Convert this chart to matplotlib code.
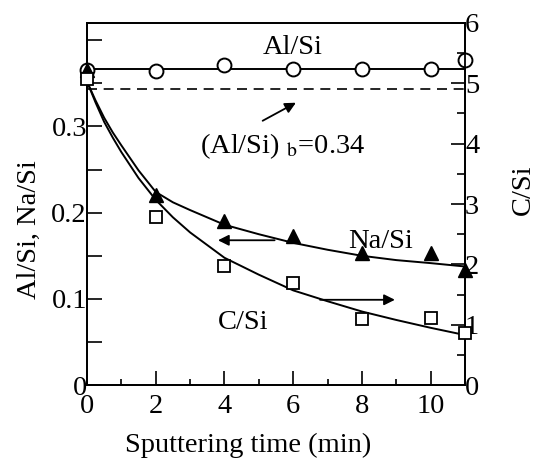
import matplotlib
matplotlib.use("Agg")
import matplotlib.pyplot as plt
from matplotlib.ticker import MultipleLocator, FixedLocator

plt.rcParams['font.family'] = ['Liberation Serif', 'DejaVu Serif']
plt.rcParams['mathtext.fontset'] = 'stix'

# measured points
time = [0, 2, 4, 6, 8, 10, 11]
al_si = [0.365, 0.364, 0.371, 0.367, 0.366, 0.366, 0.377]
na_si = [0.365, 0.221, 0.190, 0.173, 0.153, 0.153, 0.134]
c_si = [5.07, 2.79, 1.97, 1.69, 1.09, 1.11, 0.86]  # right axis

# fitted curves
al_fit = 0.367
al_bulk = 0.343
fit_t = [0, 0.25, 0.5, 0.75, 1, 1.5, 2, 2.5, 3, 4, 5, 6, 7, 8, 9, 10, 11]
na_fit = [0.352, 0.330, 0.310, 0.293, 0.278, 0.249, 0.224, 0.212, 0.203,
          0.186, 0.175, 0.165, 0.157, 0.150, 0.145, 0.1415, 0.1376]
c_fit = [5.03, 4.68, 4.36, 4.10, 3.86, 3.43, 3.07, 2.78, 2.53, 2.11, 1.83,
         1.57, 1.39, 1.22, 1.08, 0.95, 0.83]

fig = plt.figure(figsize=(5.37, 4.58), dpi=100)
ax = fig.add_axes([0.162, 0.159, 0.704, 0.791])
ax2 = ax.twinx()

fs = 20.5
lw = 1.4
ax.plot([0, 11], [al_fit, al_fit], color='black', lw=lw)
ax.plot([0, 11], [al_bulk, al_bulk], color='black', lw=1.2, ls=(0, (6, 4)))
ax.plot(fit_t, na_fit, color='black', lw=lw)
ax2.plot(fit_t, c_fit, color='black', lw=lw)

ax.plot(time, al_si, 'o', ms=10, mfc='white', mec='black', mew=1.4, clip_on=False, zorder=5)
ax.plot(time, na_si, '^', ms=10, mfc='black', mec='black', clip_on=False, zorder=5)
ax2.plot(time, c_si, 's', ms=9, mfc='white', mec='black', mew=1.3, clip_on=False, zorder=5)

ax.set_xlim(0, 11)
ax.set_ylim(0, 0.42)
ax2.set_ylim(0, 6)

ax.xaxis.set_major_locator(FixedLocator([0, 2, 4, 6, 8, 10]))
ax.xaxis.set_minor_locator(FixedLocator([1, 3, 5, 7, 9]))
ax.yaxis.set_major_locator(FixedLocator([0, 0.1, 0.2, 0.3, 0.4]))
ax.yaxis.set_minor_locator(FixedLocator([0.05, 0.15, 0.25, 0.35]))
ax.set_yticklabels(['0', '0.1', '0.2', '0.3', ''])
ax2.yaxis.set_major_locator(MultipleLocator(1))
ax2.yaxis.set_minor_locator(MultipleLocator(0.5))

ax.tick_params(axis='x', which='major', direction='in', length=10, width=1.2,
               labelsize=fs, pad=6)
ax.tick_params(axis='x', which='minor', direction='in', length=4, width=1.2)
ax.tick_params(axis='y', which='both', direction='in', length=11, width=1.2,
               labelsize=fs, pad=0)
ax2.tick_params(axis='y', which='major', direction='in', length=10, width=1.2,
                labelsize=fs, pad=0)
ax2.tick_params(axis='y', which='minor', direction='in', length=6, width=1.2)
for a in (ax, ax2):
    for s in a.spines.values():
        s.set_linewidth(1.3)

ax.set_xlabel('Sputtering time (min)', fontsize=fs)
ax.xaxis.set_label_coords(0.426, -0.132)
ax.set_ylabel('Al/Si, Na/Si', fontsize=fs)
ax.yaxis.set_label_coords(-0.12, 0.428)
ax2.set_ylabel('C/Si', fontsize=fs)
ax2.yaxis.set_label_coords(1.122, 0.54)

ax.text(5.98, 0.392, 'Al/Si', fontsize=fs, ha='center', va='center')
ax.text(8.54, 0.166, 'Na/Si', fontsize=fs, ha='center', va='center')
ax.text(4.55, 0.073, 'C/Si', fontsize=fs, ha='center', va='center')
ax.text(3.29, 0.277, r'(Al/Si) $_{\mathrm{b}}$=0.34', fontsize=fs, ha='left', va='center')

arrow = dict(arrowstyle='-|>', color='black', lw=1.3, mutation_scale=16)
ax.annotate('', xy=(6.15, 0.329), xytext=(5.04, 0.305), arrowprops=arrow)
ax.annotate('', xy=(3.73, 0.168), xytext=(5.54, 0.168), arrowprops=arrow)
ax.annotate('', xy=(9.04, 0.099), xytext=(6.7, 0.099), arrowprops=arrow)

fig.savefig('out.png', dpi=100)
